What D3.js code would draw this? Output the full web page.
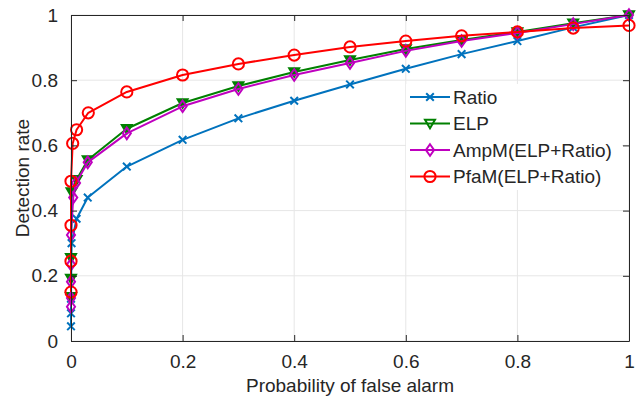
<!DOCTYPE html>
<html>
<head>
<meta charset="utf-8">
<script src="https://cdn.jsdelivr.net/npm/d3@7"></script>
<style>
  html, body { margin: 0; padding: 0; background: #fff; }
  svg { display: block; font-family: "Liberation Sans", Arial, sans-serif; }
</style>
</head>
<body>
<svg id="chart" width="644" height="400"></svg>
<script>
// ROC curves: detection rate vs. probability of false alarm
const seriesNames = ["Ratio", "ELP", "AmpM(ELP+Ratio)", "PfaM(ELP+Ratio)"];
const seriesColors = ["#0072BD", "#008000", "#BF00BF", "#FF0000"];
const seriesMarkers = ["x", "triangle", "diamond", "circle"];

const ratioPfa = [0, 0, 0, 0.001, 0.01, 0.03, 0.1, 0.2, 0.3, 0.4, 0.5, 0.6, 0.7, 0.8, 0.9, 1];
const ratioPd  = [0.045, 0.085, 0.13, 0.30, 0.375, 0.44, 0.535, 0.617, 0.683, 0.737, 0.787, 0.835, 0.88, 0.92, 0.962, 1];

const elpPfa = [0, 0, 0, 0.001, 0.01, 0.03, 0.1, 0.2, 0.3, 0.4, 0.5, 0.6, 0.7, 0.8, 0.9, 1];
const elpPd  = [0.136, 0.192, 0.255, 0.457, 0.495, 0.555, 0.651, 0.73, 0.782, 0.825, 0.862, 0.896, 0.923, 0.948, 0.975, 1];

const ampPfa = [0, 0, 0, 0, 0, 0.004, 0.009, 0.03, 0.1, 0.2, 0.3, 0.4, 0.5, 0.6, 0.7, 0.8, 0.9, 1];
const ampPd  = [0.105, 0.132, 0.182, 0.235, 0.325, 0.44, 0.485, 0.548, 0.637, 0.72, 0.773, 0.816, 0.853, 0.89, 0.92, 0.945, 0.972, 1];

const pfamPfa = [0, 0, 0, 0, 0.003, 0.01, 0.031, 0.1, 0.2, 0.3, 0.4, 0.5, 0.6, 0.7, 0.8, 0.9, 1];
const pfamPd  = [0.15, 0.245, 0.355, 0.49, 0.606, 0.648, 0.70, 0.764, 0.816, 0.85, 0.877, 0.902, 0.92, 0.936, 0.948, 0.96, 0.968];

const xTicks = [0, 0.2, 0.4, 0.6, 0.8, 1];
const yTicks = [0, 0.2, 0.4, 0.6, 0.8, 1];
const xTickLabels = ["0", "0.2", "0.4", "0.6", "0.8", "1"];
const yTickLabels = ["0", "0.2", "0.4", "0.6", "0.8", "1"];

const xTitle = "Probability of false alarm";
const yTitle = "Detection rate";

const series = [
  { xs: ratioPfa, ys: ratioPd },
  { xs: elpPfa, ys: elpPd },
  { xs: ampPfa, ys: ampPd },
  { xs: pfamPfa, ys: pfamPd }
].map((s, i) => ({
  name: seriesNames[i], color: seriesColors[i], marker: seriesMarkers[i],
  points: s.xs.map((x, j) => ({ x, y: s.ys[j] }))
}));

const svg = d3.select("#chart");
const margin = { left: 71, right: 15, top: 15, bottom: 59 };
const W = 644, H = 400;
const x = d3.scaleLinear().domain([0, 1]).range([margin.left, W - margin.right]);
const y = d3.scaleLinear().domain([0, 1]).range([H - margin.bottom, margin.top]);
const axisColor = "#262626";
const fontSize = 19;

// grid
const grid = svg.append("g");
grid.selectAll("line.gx").data(xTicks).join("line")
  .attr("x1", d => x(d)).attr("x2", d => x(d))
  .attr("y1", y(0)).attr("y2", y(1))
  .attr("stroke", "#e6e6e6").attr("stroke-width", 1);
grid.selectAll("line.gy").data(yTicks).join("line")
  .attr("y1", d => y(d)).attr("y2", d => y(d))
  .attr("x1", x(0)).attr("x2", x(1))
  .attr("stroke", "#e6e6e6").attr("stroke-width", 1);

// axes with inward ticks on all four sides
const tickLen = 6;
const bottomAxis = d3.axisBottom(x).tickValues(xTicks).tickSizeInner(-tickLen).tickSizeOuter(0)
  .tickPadding(14).tickFormat((d, i) => xTickLabels[i]);
const leftAxis = d3.axisLeft(y).tickValues(yTicks).tickSizeInner(-tickLen).tickSizeOuter(0)
  .tickPadding(13).tickFormat((d, i) => yTickLabels[i]);
const topAxis = d3.axisTop(x).tickValues(xTicks).tickSizeInner(-tickLen).tickSizeOuter(0).tickFormat("");
const rightAxis = d3.axisRight(y).tickValues(yTicks).tickSizeInner(-tickLen).tickSizeOuter(0).tickFormat("");

function styleAxis(g) {
  g.select(".domain").attr("stroke", axisColor).attr("stroke-width", 1);
  g.selectAll(".tick line").attr("stroke", axisColor).attr("stroke-width", 1);
  g.selectAll(".tick text").attr("fill", axisColor)
    .style("font-size", fontSize + "px").style("font-family", '"Liberation Sans", Arial, sans-serif');
}

// curves
const line = d3.line().x(d => x(d.x)).y(d => y(d.y));
const plot = svg.append("g");

function drawMarker(g, type, color, cx, cy) {
  if (type === "x") {
    const r = 3.8;
    g.append("path")
      .attr("d", `M${cx - r},${cy - r}L${cx + r},${cy + r}M${cx - r},${cy + r}L${cx + r},${cy - r}`)
      .attr("stroke", color).attr("stroke-width", 2).attr("fill", "none");
  } else if (type === "triangle" || type === "triangleOpen") {
    const s = 5;
    g.append("path")
      .attr("d", `M${cx - s},${cy - s * 0.75}L${cx + s},${cy - s * 0.75}L${cx},${cy + s * 0.95}Z`)
      .attr("stroke", color).attr("stroke-width", 2)
      .attr("fill", type === "triangle" ? color : "none").attr("stroke-linejoin", "miter");
  } else if (type === "diamond") {
    const s = 5.8;
    g.append("path")
      .attr("d", `M${cx},${cy - s}L${cx + s * 0.7},${cy}L${cx},${cy + s}L${cx - s * 0.7},${cy}Z`)
      .attr("stroke", color).attr("stroke-width", 2).attr("fill", "none");
  } else {
    g.append("circle").attr("cx", cx).attr("cy", cy).attr("r", 5.6)
      .attr("stroke", color).attr("stroke-width", 2).attr("fill", "none");
  }
}

series.forEach(s => {
  const g = plot.append("g");
  g.append("path").datum(s.points).attr("d", line)
    .attr("fill", "none").attr("stroke", s.color).attr("stroke-width", 2).attr("stroke-linejoin", "round");
  s.points.forEach(p => drawMarker(g, s.marker, s.color, x(p.x), y(p.y)));
});

svg.append("g").attr("transform", `translate(0,${y(0)})`).call(bottomAxis).call(styleAxis);
svg.append("g").attr("transform", `translate(${x(0)},0)`).call(leftAxis).call(styleAxis);
svg.append("g").attr("transform", `translate(0,${y(1)})`).call(topAxis).call(styleAxis);
svg.append("g").attr("transform", `translate(${x(1)},0)`).call(rightAxis).call(styleAxis);

// axis titles
svg.append("text").attr("x", (x(0) + x(1)) / 2).attr("y", 392)
  .attr("text-anchor", "middle").attr("fill", axisColor)
  .style("font-size", fontSize + "px").text(xTitle);
svg.append("text").attr("transform", `translate(29,${(y(0) + y(1)) / 2}) rotate(-90)`)
  .attr("text-anchor", "middle").attr("fill", axisColor)
  .style("font-size", fontSize + "px").text(yTitle);

// legend
const legend = svg.append("g");
const lgX = 406, lgY = 84, lgW = 216, lgH = 106, rowH = 26.5;
legend.append("rect").attr("x", lgX).attr("y", lgY).attr("width", lgW).attr("height", lgH)
  .attr("fill", "#fff").attr("stroke", "none");
series.forEach((s, i) => {
  const cy = 97 + i * rowH;
  const row = legend.append("g");
  row.append("line").attr("x1", 410).attr("x2", 450).attr("y1", cy).attr("y2", cy)
    .attr("stroke", s.color).attr("stroke-width", 2);
  drawMarker(row, s.marker === "triangle" ? "triangleOpen" : s.marker, s.color, 430, cy);
  row.append("text").attr("x", 453).attr("y", cy + 6.8).attr("fill", axisColor)
    .style("font-size", fontSize + "px").text(s.name);
});
</script>
</body>
</html>
